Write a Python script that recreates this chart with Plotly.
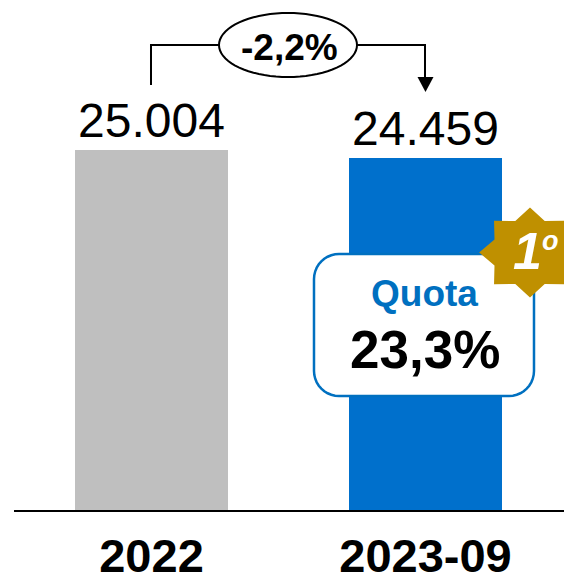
import math
import plotly.graph_objects as go

categories = ["2022", "2023-09"]
values = [25004, 24459]
value_labels = ["25.004", "24.459"]
bar_colors = ["#BFBFBF", "#0070CC"]
change_label = "-2,2%"
share_title = "Quota"
share_value = "23,3%"

W, H = 564, 574
ML, MR, MT, MB = 14, 0, 0, 64
PW, PH = W - ML - MR, H - MT - MB

def px(x):
    return (x - ML) / PW

def py(y):
    return 1 - (y - MT) / PH

def path(points, close=False):
    s = "M " + " L ".join(f"{px(x):.5f},{py(y):.5f}" for x, y in points)
    return s + (" Z" if close else "")

def rounded(x0, y0, x1, y1, r, n=10):
    pts = []
    for cx, cy, a0 in [(x1 - r, y0 + r, -90), (x1 - r, y1 - r, 0), (x0 + r, y1 - r, 90), (x0 + r, y0 + r, 180)]:
        for i in range(n + 1):
            a = math.radians(a0 + 90 * i / n)
            pts.append((cx + r * math.cos(a), cy + r * math.sin(a)))
    return pts

def ellipse(cx, cy, rx, ry, n=72):
    return [(cx + rx * math.cos(2 * math.pi * i / n), cy + ry * math.sin(2 * math.pi * i / n)) for i in range(n)]

def star(cx, cy, ro, ri, sx=1.13, n=8):
    pts = []
    for i in range(2 * n):
        r = ro if i % 2 == 0 else ri
        a = math.pi * i / n - math.pi / 2
        pts.append((cx + sx * r * math.cos(a), cy + r * math.sin(a)))
    return pts

fig = go.Figure(go.Bar(
    x=categories, y=values, width=0.558,
    marker=dict(color=bar_colors, line=dict(width=0)),
    text=value_labels, textposition="outside", cliponaxis=False,
    textfont=dict(family="Liberation Sans", size=48, color="#000000"),
    hoverinfo="skip",
))

line = dict(color="#000000", width=2)
shapes = [
    dict(type="path", xref="paper", yref="paper", path=path([(151, 85), (151, 45), (425, 45), (425, 78)]), line=line),
    dict(type="path", xref="paper", yref="paper", path=path([(417.5, 77), (433.5, 77), (425.5, 92)], True),
         fillcolor="#000000", line=dict(width=0)),
    dict(type="path", xref="paper", yref="paper", path=path(ellipse(288, 45, 69, 32), True),
         fillcolor="#FFFFFF", line=line),
    dict(type="path", xref="paper", yref="paper", path=path(rounded(314, 254, 534, 396, 25), True),
         fillcolor="#FFFFFF", line=dict(color="#0070C0", width=2.5)),
    dict(type="path", xref="paper", yref="paper", path=path(star(530, 252.5, 45, 34), True),
         fillcolor="#BF9000", line=dict(width=0)),
]

def note(text, x, y, size, color="#000000", bold=True, italic=False):
    t = f"<b>{text}</b>" if bold else text
    if italic:
        t = f"<i>{t}</i>"
    return dict(text=t, xref="paper", yref="paper", x=px(x), y=py(y), xanchor="center", yanchor="middle",
                showarrow=False, font=dict(family="Liberation Sans", size=size, color=color))

annotations = [
    note(change_label, 289, 47, 37),
    note(share_title, 424.5, 293, 37, "#0070C0"),
    note(share_value, 424.5, 349, 53),
    note("1", 527, 251, 52, "#FFFFFF", True, True),
    note("o", 550, 241, 27, "#FFFFFF", True, True),
]

fig.update_layout(
    width=W, height=H, autosize=False, bargap=0, showlegend=False,
    margin=dict(l=ML, r=MR, t=MT, b=MB, pad=0),
    paper_bgcolor="#FFFFFF", plot_bgcolor="#FFFFFF",
    shapes=shapes, annotations=annotations,
    xaxis=dict(type="category", range=[-0.5018, 1.5055], showline=True, linecolor="#000000", linewidth=2,
               showgrid=False, zeroline=False, ticks="", ticklen=0, ticklabelstandoff=4, automargin=False,
               tickfont=dict(family="Liberation Sans", size=47, color="#000000"),
               tickmode="array", tickvals=categories, ticktext=[f"<b>{c}</b>" for c in categories]),
    yaxis=dict(range=[0, 35422], visible=False, showgrid=False, zeroline=False, automargin=False),
)
fig.write_html("out.html", config={"displayModeBar": False},
               post_script="document.body.style.margin='0';document.documentElement.style.overflow='hidden';")
